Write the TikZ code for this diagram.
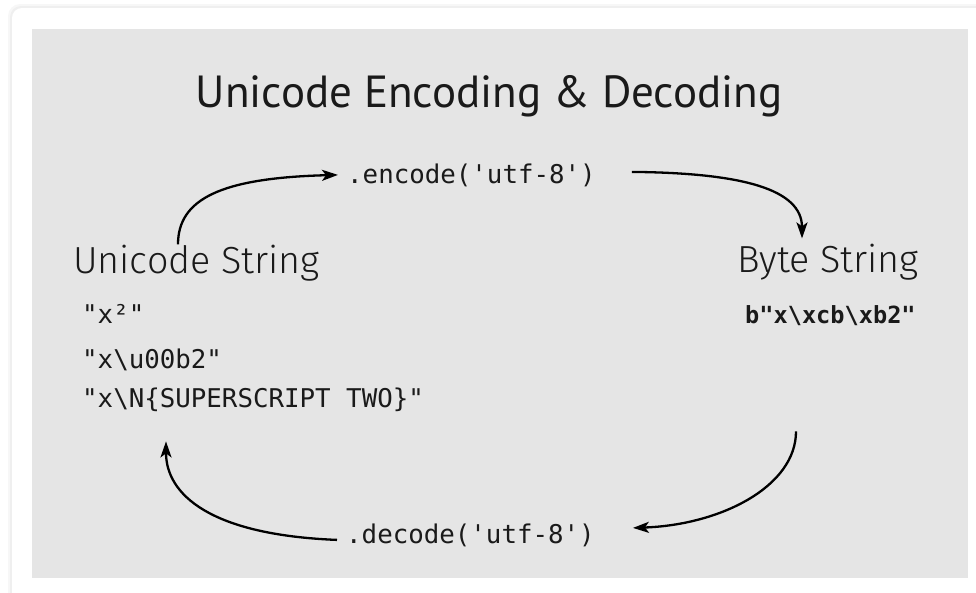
\documentclass[tikz,border=0pt]{standalone}
\usepackage{fontspec}
\setmonofont{DejaVu Sans Mono}
\newfontfamily\titlefont{PT Sans}
\newfontfamily\labelfont{Fira Sans Light}
\usetikzlibrary{arrows.meta,positioning,calc}
\definecolor{panelgray}{HTML}{E5E5E5}
\definecolor{inkblack}{HTML}{1A1A1A}
\tikzset{
  titletext/.style={
    font=\titlefont\fontsize{45}{50}\selectfont,
    text=inkblack,
    inner sep=0pt,
    anchor=base
  },
  sidelabel/.style={
    font=\labelfont\fontsize{37.7}{44}\selectfont,
    text=inkblack,
    inner sep=0pt,
    anchor=base west
  },
  codeline/.style={
    font=\ttfamily\fontsize{25.8}{30}\selectfont,
    text=inkblack,
    inner sep=0pt,
    anchor=base west
  },
  bytecode/.style={
    codeline,
    font=\ttfamily\bfseries\fontsize{23.6}{28}\selectfont
  },
  flowarrow/.style={-{Stealth[length=16pt,width=11pt,inset=4pt]}, line width=2.3pt, draw=black}
}

\begin{document}
\begin{tikzpicture}[x=1pt, y=-1pt]
\useasboundingbox (0,0) rectangle (976,592);
% card and panel
\fill[black, opacity=0.03, rounded corners=12pt] (8,4) rectangle (990,610);
\fill[black, opacity=0.03, rounded corners=11pt] (10,6) rectangle (990,610);
\fill[white, rounded corners=10pt] (12,8) rectangle (990,610);
\fill[panelgray] (32,29) rectangle (968,578);

\node[titletext] (title) at (489,107) {Unicode Encoding \& Decoding};

\node[sidelabel] (ustr) at (73,273) {Unicode String};
\node[sidelabel] (bstr) at (737,272) {Byte String};

\node[codeline] (u1) at (82,323) {"x²"};
\node[codeline] (u2) at (82,368) {"x\textbackslash u00b2"};
\node[codeline] (u3) at (82,407) {"x\textbackslash N\{SUPERSCRIPT TWO\}"};
\node[bytecode] (b1) at (745,323) {b"x\textbackslash xcb\textbackslash xb2"};

\node[codeline] (enc) at (347,183) {.encode('utf-8')};
\node[codeline] (dec) at (346,543) {.decode('utf-8')};

\coordinate (dstart) at ([xshift=51,yshift=-106]b1.south west);

\draw[flowarrow] ([xshift=105]ustr.north west) .. controls +(0,-45) and +(-118,3) .. ([xshift=-9]enc.west);
\draw[flowarrow] ([xshift=36,yshift=3]enc.east) .. controls +(111,1) and +(0,-49) .. ([xshift=65,yshift=5]bstr.north west);
\draw[flowarrow] (dstart) .. controls +(0,55) and +(88,-3) .. ([xshift=38,yshift=7]dec.east);
\draw[flowarrow] ([xshift=-9,yshift=-5]dec.west) .. controls +(-127,-5) and +(0,53) .. ([xshift=84,yshift=-30]u3.south west);
\end{tikzpicture}
\end{document}
